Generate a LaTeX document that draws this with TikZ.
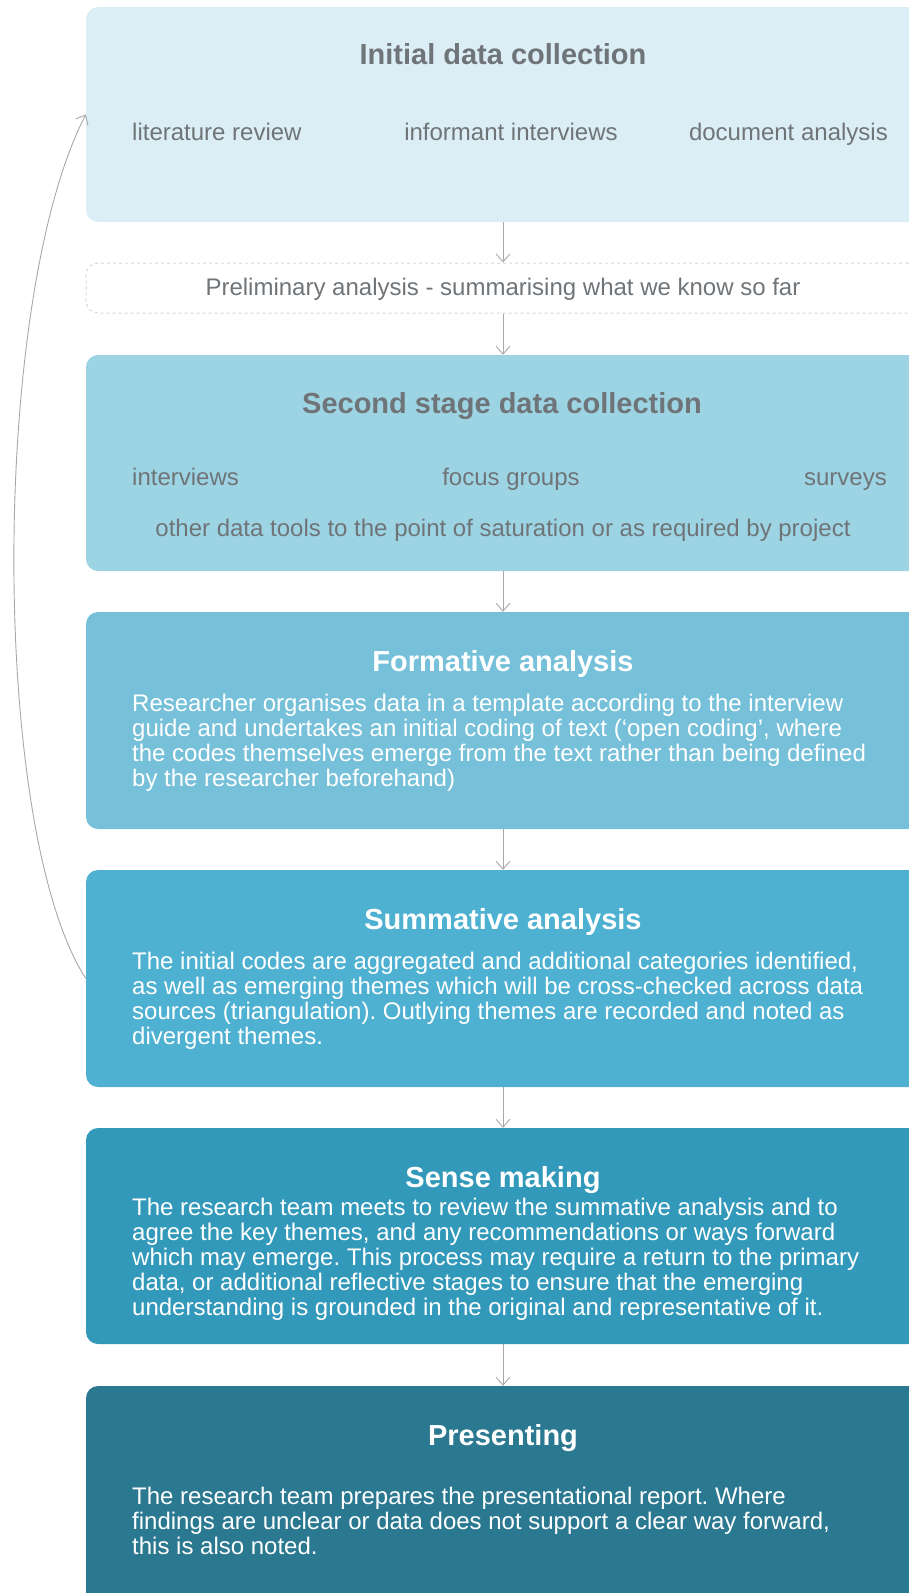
\documentclass[tikz,border=0pt]{standalone}
\usepackage{fontspec}
\setmainfont{Liberation Sans}
\usetikzlibrary{arrows.meta}
\definecolor{stA}{HTML}{DCEEF5}
\definecolor{stB}{HTML}{9DD4E3}
\definecolor{stC}{HTML}{76C1D9}
\definecolor{stD}{HTML}{4FB1D1}
\definecolor{stE}{HTML}{3399BA}
\definecolor{stF}{HTML}{2B7891}
\definecolor{ink}{HTML}{6F7478}
\definecolor{link}{HTML}{A8A8A8}
\definecolor{dash}{HTML}{D6D6D6}
\frenchspacing

\begin{document}
\begin{tikzpicture}[x=1pt, y=-1pt, font=\fontsize{24}{24.9}\selectfont,
  stage/.style={rounded corners=12pt, minimum width=834pt, inner sep=0pt},
  ttl/.style={font=\fontsize{29}{34}\selectfont\bfseries, inner sep=0pt, anchor=base},
  txt/.style={inner sep=0pt, align=left},
  flow/.style={-{Straight Barb[length=8pt, width=14pt]}, link, line width=0.9pt},
  back/.style={-{Straight Barb[length=8pt, width=14pt]}, link, line width=0.9pt}]
\useasboundingbox (0,0) rectangle (909,1593);
\clip (0,0) rectangle (909,1593);
% stage boxes
\node[stage, fill=stA, minimum height=215pt] (init) at (503,114.5) {};
\node[stage, draw=dash, dashed, line width=1pt, minimum height=50pt] (prel) at (503,288) {};
\node[stage, fill=stB, minimum height=216pt] (second) at (503,463) {};
\node[stage, fill=stC, minimum height=217pt] (form) at (503,720.5) {};
\node[stage, fill=stD, minimum height=217pt] (sum) at (503,978.5) {};
\node[stage, fill=stE, minimum height=216pt] (sense) at (503,1236) {};
\node[stage, fill=stF, minimum height=224pt] (pres) at (503,1498) {};
% initial data collection
\node[ttl, text=ink] (initT) at (503,64.5) {Initial data collection};
\node[txt, text=ink, anchor=base west] (litrev) at (132,140.5) {literature review};
\node[txt, text=ink, anchor=base] (inform) at (511,140.5) {informant interviews};
\node[txt, text=ink, anchor=base east] (docan) at (888,140.5) {document analysis};
\node[txt, text=ink, anchor=base] (prelT) at (503,295.5) {Preliminary analysis - summarising what we know so far};
% second stage
\node[ttl, text=ink] (secondT) at (502,413.5) {Second stage data collection};
\node[txt, text=ink, anchor=base west] (intv) at (132,485.5) {interviews};
\node[txt, text=ink, anchor=base] (focus) at (511,485.5) {focus groups};
\node[txt, text=ink, anchor=base east] (surv) at (887,485.5) {surveys};
\node[txt, text=ink, anchor=base] (other) at (503,536.5) {other data tools to the point of saturation or as required by project};
% formative
\node[ttl, text=white] (formT) at (503,671.5) {Formative analysis};
\node[txt, text=white, anchor=north west] (formB) at (132,694) {Researcher organises data in a template according to the interview\\guide and undertakes an initial coding of text (`open coding', where\\the codes themselves emerge from the text rather than being defined\\by the researcher beforehand)};
% summative
\node[ttl, text=white] (sumT) at (503,929.5) {Summative analysis};
\node[txt, text=white, anchor=north west] (sumB) at (132,952) {The initial codes are aggregated and additional categories identified,\\as well as emerging themes which will be cross-checked across data\\sources (triangulation). Outlying themes are recorded and noted as\\divergent themes.};
% sense making
\node[ttl, text=white] (senseT) at (503,1187.5) {Sense making};
\node[txt, text=white, anchor=north west] (senseB) at (132,1198) {The research team meets to review the summative analysis and to\\agree the key themes, and any recommendations or ways forward\\which may emerge. This process may require a return to the primary\\data, or additional reflective stages to ensure that the emerging\\understanding is grounded in the original and representative of it.};
% presenting
\node[ttl, text=white] (presT) at (503,1445.5) {Presenting};
\node[txt, text=white, anchor=north west] (presB) at (132,1487) {The research team prepares the presentational report. Where\\findings are unclear or data does not support a clear way forward,\\this is also noted.};
% connectors
\draw[flow] (init) -- (prel);
\draw[flow] (prel) -- (second);
\draw[flow] (second) -- (form);
\draw[flow] (form) -- (sum);
\draw[flow] (sum) -- (sense);
\draw[flow] (sense) -- (pres);
\draw[back] (sum.west) .. controls (-10,830) and (-10,300) .. (init.west);
\end{tikzpicture}
\end{document}
